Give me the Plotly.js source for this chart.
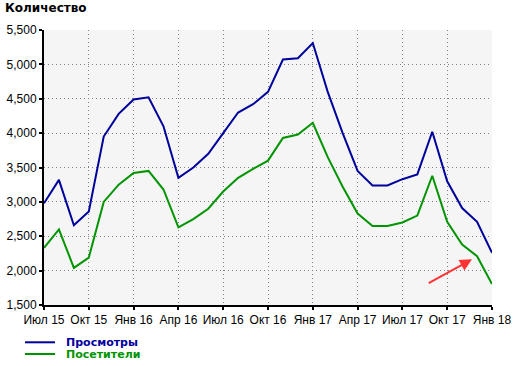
<!DOCTYPE html>
<html><head><meta charset="utf-8">
<script src="https://cdn.plot.ly/plotly-3.0.1.min.js"></script>
<style>html,body{margin:0;padding:0;background:#fff}#chart{width:520px;height:366px}</style>
</head><body><div id="chart"></div>
<script>
const months = ['Июл 15','Авг 15','Сен 15','Окт 15','Ноя 15','Дек 15','Янв 16','Фев 16','Мар 16','Апр 16','Май 16','Июн 16','Июл 16','Авг 16','Сен 16','Окт 16','Ноя 16','Дек 16','Янв 17','Фев 17','Мар 17','Апр 17','Май 17','Июн 17','Июл 17','Авг 17','Сен 17','Окт 17','Ноя 17','Дек 17','Янв 18'];
const views = [2980,3320,2660,2860,3950,4280,4490,4520,4100,3350,3500,3700,4000,4300,4420,4600,5070,5090,5310,4600,4000,3450,3240,3240,3330,3400,4020,3300,2910,2710,2260];
const visitors = [2330,2600,2040,2190,3000,3250,3420,3450,3180,2630,2750,2900,3150,3350,3480,3600,3930,3980,4150,3650,3220,2830,2650,2650,2700,2800,3380,2710,2380,2210,1805];
const tickMonths = ['Июл 15','Окт 15','Янв 16','Апр 16','Июл 16','Окт 16','Янв 17','Апр 17','Июл 17','Окт 17','Янв 18'];
const yTicks = [1500,2000,2500,3000,3500,4000,4500,5000,5500];
const seriesNames = ['Просмотры','Посетители'];
const seriesColors = ['#00009c','#009400'];

const data = [
  {x: months, y: views, type:'scatter', mode:'lines', name:seriesNames[0], line:{color:seriesColors[0], width:2}},
  {x: months, y: visitors, type:'scatter', mode:'lines', name:seriesNames[1], line:{color:seriesColors[1], width:2}}
];
// manual legend (paper coords: plot area 44..492 x, 30..305 y)
const W = 448, H = 275;
const px = v => (v - 44) / W, py = v => (305 - v) / H;
const legendY = [342.3, 354];
const shapes = [], annotations = [];
seriesNames.forEach((n, i) => {
  shapes.push({type:'line', xref:'paper', yref:'paper', x0:px(25), x1:px(55), y0:py(legendY[i]), y1:py(legendY[i]),
    line:{color:seriesColors[i], width:2}});
  annotations.push({xref:'paper', yref:'paper', x:px(64), y:py(legendY[i]), xanchor:'left', yanchor:'middle',
    text:'<b>'+n+'</b>', showarrow:false, font:{family:'DejaVu Sans', size:11, color:seriesColors[i]}});
});
annotations.push({x:28.66, y:2164, ax:25.66, ay:1805, xref:'x', yref:'y', axref:'x', ayref:'y',
    text:'', showarrow:true, arrowhead:2, arrowsize:1.2, arrowwidth:2, arrowcolor:'#ff3333'});

const axisCommon = {showgrid:true, gridcolor:'#808080', griddash:'1px,3px', gridwidth:1,
    showline:true, linecolor:'#000', linewidth:2, ticks:'outside', ticklen:3, tickwidth:2, tickcolor:'#000',
    tickfont:{family:'Liberation Sans, Arial', size:12, color:'#000'}, zeroline:false, fixedrange:true};
const layout = {
  width:520, height:366,
  margin:{l:44, r:28, t:30, b:61, autoexpand:false},
  paper_bgcolor:'#fff', plot_bgcolor:'#f5f5f5',
  showlegend:false,
  title:{text:'<b>Количество</b>', x:5/520, xref:'container', xanchor:'left', y:1-4/366, yref:'container', yanchor:'top',
    font:{family:'DejaVu Sans', size:12, color:'#000'}},
  font:{family:'Liberation Sans, Arial', size:12, color:'#000'},
  xaxis:Object.assign({type:'category', range:[0,30], tickvals:tickMonths, ticktext:tickMonths}, axisCommon),
  yaxis:Object.assign({range:[1500,5500], tickvals:yTicks, tickformat:',d'}, axisCommon),
  shapes: shapes,
  annotations: annotations
};
Plotly.newPlot('chart', data, layout, {staticPlot:true, displayModeBar:false});
</script></body></html>
